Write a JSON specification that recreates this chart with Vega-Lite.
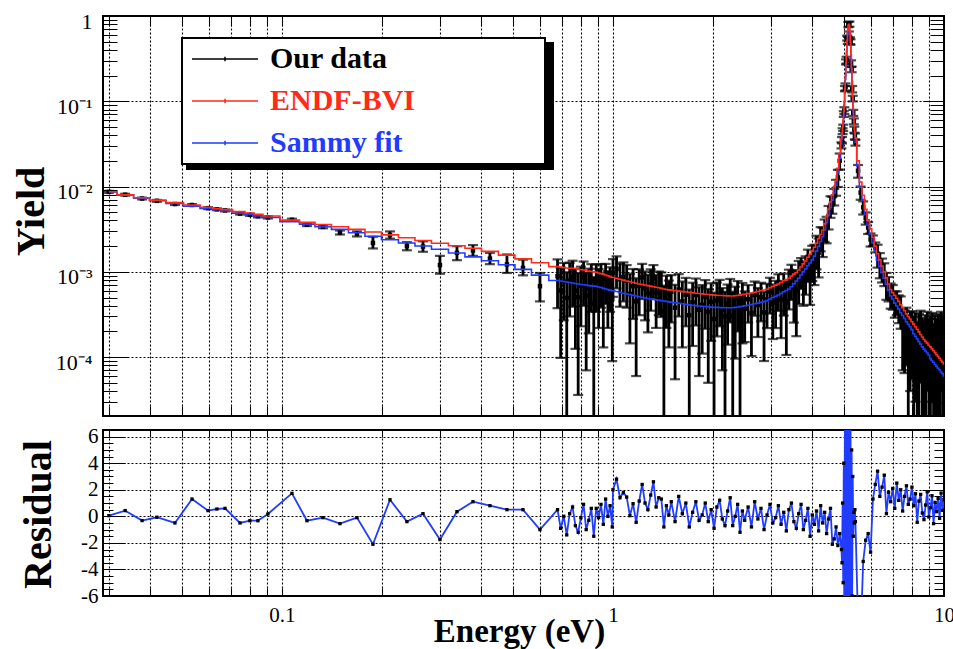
{
"$schema": "https://vega.github.io/schema/vega-lite/v6.json",
"background": "white",
"padding": {"left": 10, "top": 9, "right": -3, "bottom": 0},
"bounds": "flush",
"spacing": 14,
"config": {
  "font": "Liberation Serif",
  "view": {"stroke": "black", "strokeWidth": 2},
  "axis": {"domain": false, "labelColor": "black", "tickColor": "black", "tickWidth": 1, "gridColor": "black", "gridOpacity": 1, "gridDash": [2, 2], "gridWidth": 1.1, "labelFont": "Liberation Serif", "titleFont": "Liberation Serif", "titleColor": "black", "labelFontSize": 22, "titleFontWeight": "bold", "labelFlush": false, "labelOverlap": false}
},
"datasets": {"pts": [
{"E":0.0300,"Y":0.00866,"lo":0.00844,"hi":0.00888,"R":0.05,"endf":0.00868,"sammy":0.00865},
{"E":0.0336,"Y":0.00803,"lo":0.00783,"hi":0.00823,"R":0.43,"endf":0.00799,"sammy":0.00794},
{"E":0.0378,"Y":0.00724,"lo":0.00706,"hi":0.00742,"R":-0.32,"endf":0.00739,"sammy":0.0073},
{"E":0.0419,"Y":0.0068,"lo":0.00663,"hi":0.00697,"R":-0.07,"endf":0.00693,"sammy":0.00681},
{"E":0.0475,"Y":0.00624,"lo":0.00608,"hi":0.0064,"R":-0.5,"endf":0.00648,"sammy":0.00632},
{"E":0.0535,"Y":0.00608,"lo":0.00593,"hi":0.00623,"R":1.3,"endf":0.00607,"sammy":0.00589},
{"E":0.0598,"Y":0.00558,"lo":0.00544,"hi":0.00572,"R":0.43,"endf":0.00572,"sammy":0.00552},
{"E":0.0636,"Y":0.00541,"lo":0.00528,"hi":0.00554,"R":0.55,"endf":0.00554,"sammy":0.00534},
{"E":0.0673,"Y":0.00525,"lo":0.00512,"hi":0.00538,"R":0.6,"endf":0.00537,"sammy":0.00517},
{"E":0.0747,"Y":0.00482,"lo":0.0047,"hi":0.00494,"R":-0.5,"endf":0.00508,"sammy":0.00488},
{"E":0.0800,"Y":0.00466,"lo":0.00454,"hi":0.00478,"R":-0.33,"endf":0.0049,"sammy":0.0047},
{"E":0.0846,"Y":0.00449,"lo":0.00435,"hi":0.00463,"R":-0.33,"endf":0.00472,"sammy":0.00453},
{"E":0.0907,"Y":0.00435,"lo":0.00422,"hi":0.00448,"R":0.18,"endf":0.00451,"sammy":0.00433},
{"E":0.1072,"Y":0.00408,"lo":0.00396,"hi":0.0042,"R":1.73,"endf":0.00404,"sammy":0.00388},
{"E":0.1190,"Y":0.00358,"lo":0.00344,"hi":0.00373,"R":-0.33,"endf":0.0038,"sammy":0.00363},
{"E":0.1330,"Y":0.00337,"lo":0.00324,"hi":0.00351,"R":-0.1,"endf":0.00359,"sammy":0.00338},
{"E":0.1497,"Y":0.00289,"lo":0.00274,"hi":0.00305,"R":-0.55,"endf":0.00338,"sammy":0.00315},
{"E":0.1685,"Y":0.00279,"lo":0.0026,"hi":0.00298,"R":-0.1,"endf":0.00315,"sammy":0.00287},
{"E":0.1883,"Y":0.00218,"lo":0.00188,"hi":0.00258,"R":-2.1,"endf":0.00293,"sammy":0.00261},
{"E":0.2120,"Y":0.0027,"lo":0.00245,"hi":0.00298,"R":1.25,"endf":0.00271,"sammy":0.00238},
{"E":0.2385,"Y":0.002,"lo":0.00179,"hi":0.00223,"R":-0.4,"endf":0.00251,"sammy":0.00218},
{"E":0.2667,"Y":0.00198,"lo":0.00172,"hi":0.00228,"R":0.2,"endf":0.00233,"sammy":0.00201},
{"E":0.3001,"Y":0.0012,"lo":0.00095,"hi":0.00154,"R":-1.75,"endf":0.00216,"sammy":0.00184},
{"E":0.3378,"Y":0.00167,"lo":0.00137,"hi":0.002,"R":0.35,"endf":0.00202,"sammy":0.00166},
{"E":0.3776,"Y":0.00178,"lo":0.00154,"hi":0.00206,"R":1.1,"endf":0.00189,"sammy":0.0015},
{"E":0.4249,"Y":0.00143,"lo":0.00123,"hi":0.00167,"R":0.8,"endf":0.00174,"sammy":0.00135},
{"E":0.4783,"Y":0.00122,"lo":0.00097,"hi":0.0016,"R":0.5,"endf":0.00157,"sammy":0.00121},
{"E":0.5347,"Y":0.00111,"lo":0.00091,"hi":0.00139,"R":0.5,"endf":0.00142,"sammy":0.00107},
{"E":0.6017,"Y":0.00068,"lo":0.00045,"hi":0.00097,"R":-1.0,"endf":0.00128,"sammy":0.000915},
{"E":0.68,"Y":8.89e-4,"lo":3.75e-4,"hi":1.40e-3,"R":0.5,"endf":1.15e-3,"sammy":7.9e-4},
{"E":0.695,"Y":6.05e-4,"lo":0.98e-4,"hi":1.11e-3,"R":-0.9,"endf":1.14e-3,"sammy":7.8e-4},
{"E":0.71,"Y":7.7e-4,"lo":2.7e-4,"hi":1.27e-3,"R":0.0,"endf":1.12e-3,"sammy":7.7e-4},
{"E":0.725,"Y":4.94e-4,"lo":1e-5,"hi":9.9e-4,"R":-1.4,"endf":1.11e-3,"sammy":7.6e-4},
{"E":0.74,"Y":7.88e-4,"lo":3.0e-4,"hi":1.28e-3,"R":0.2,"endf":1.10e-3,"sammy":7.5e-4},
{"E":0.755,"Y":8.7e-4,"lo":3.9e-4,"hi":1.35e-3,"R":0.7,"endf":1.10e-3,"sammy":7.4e-4},
{"E":0.77,"Y":6.0e-4,"lo":1.25e-4,"hi":1.08e-3,"R":-0.7,"endf":1.09e-3,"sammy":7.3e-4},
{"E":0.785,"Y":5.04e-4,"lo":3.6e-5,"hi":9.7e-4,"R":-1.2,"endf":1.07e-3,"sammy":7.2e-4},
{"E":0.80,"Y":6.9e-4,"lo":2.3e-4,"hi":1.15e-3,"R":-0.1,"endf":1.06e-3,"sammy":7.1e-4},
{"E":0.815,"Y":8.6e-4,"lo":4.0e-4,"hi":1.32e-3,"R":0.9,"endf":1.05e-3,"sammy":7.05e-4},
{"E":0.83,"Y":5.25e-4,"lo":7e-5,"hi":9.8e-4,"R":-1.0,"endf":1.04e-3,"sammy":7.0e-4},
{"E":0.845,"Y":6.4e-4,"lo":1.9e-4,"hi":1.09e-3,"R":-0.3,"endf":1.02e-3,"sammy":6.9e-4},
{"E":0.86,"Y":7.9e-4,"lo":3.4e-4,"hi":1.23e-3,"R":0.6,"endf":1.01e-3,"sammy":6.85e-4},
{"E":0.875,"Y":4.25e-4,"lo":1e-5,"hi":8.7e-4,"R":-1.5,"endf":1.0e-3,"sammy":6.8e-4},
{"E":0.89,"Y":7.8e-4,"lo":3.4e-4,"hi":1.22e-3,"R":0.6,"endf":9.9e-4,"sammy":6.75e-4},
{"E":0.905,"Y":6.5e-4,"lo":2.2e-4,"hi":1.08e-3,"R":-0.1,"endf":9.7e-4,"sammy":6.65e-4},
{"E":0.92,"Y":8.0e-4,"lo":3.8e-4,"hi":1.23e-3,"R":0.9,"endf":9.5e-4,"sammy":6.55e-4},
{"E":0.935,"Y":5.4e-4,"lo":1.3e-4,"hi":9.6e-4,"R":-0.6,"endf":9.4e-4,"sammy":6.4e-4},
{"E":0.95,"Y":8.3e-4,"lo":4.2e-4,"hi":1.24e-3,"R":1.3,"endf":9.2e-4,"sammy":6.3e-4},
{"E":0.965,"Y":6.2e-4,"lo":2.2e-4,"hi":1.02e-3,"R":0.0,"endf":9.0e-4,"sammy":6.2e-4},
{"E":0.98,"Y":7.3e-4,"lo":3.4e-4,"hi":1.13e-3,"R":0.8,"endf":8.8e-4,"sammy":6.1e-4},
{"E":0.995,"Y":4.8e-4,"lo":9e-5,"hi":8.7e-4,"R":-0.8,"endf":8.6e-4,"sammy":6.0e-4},
{"E":1.0,"Y":9.6e-4,"lo":5.1e-4,"hi":1.41e-3,"R":2.0,"endf":8.6e-4,"sammy":6.0e-4},
{"E":1.025,"Y":1.08e-3,"lo":6.4e-4,"hi":1.52e-3,"R":2.8,"endf":8.4e-4,"sammy":5.87e-4},
{"E":1.05,"Y":8.2e-4,"lo":3.9e-4,"hi":1.25e-3,"R":1.4,"endf":8.2e-4,"sammy":5.75e-4},
{"E":1.075,"Y":8.7e-4,"lo":4.5e-4,"hi":1.29e-3,"R":1.8,"endf":8.0e-4,"sammy":5.62e-4},
{"E":1.1,"Y":7.9e-4,"lo":3.8e-4,"hi":1.2e-3,"R":1.45,"endf":7.8e-4,"sammy":5.5e-4},
{"E":1.125,"Y":5.5e-4,"lo":1.45e-4,"hi":9.5e-4,"R":0.05,"endf":7.65e-4,"sammy":5.4e-4},
{"E":1.15,"Y":6.8e-4,"lo":2.8e-4,"hi":1.08e-3,"R":0.95,"endf":7.5e-4,"sammy":5.3e-4},
{"E":1.175,"Y":4.5e-4,"lo":6e-5,"hi":8.4e-4,"R":-0.45,"endf":7.35e-4,"sammy":5.2e-4},
{"E":1.2,"Y":6.9e-4,"lo":3.1e-4,"hi":1.07e-3,"R":1.15,"endf":7.2e-4,"sammy":5.1e-4},
{"E":1.225,"Y":8.6e-4,"lo":4.8e-4,"hi":1.24e-3,"R":2.4,"endf":7.1e-4,"sammy":5.02e-4},
{"E":1.25,"Y":6.4e-4,"lo":2.7e-4,"hi":1.01e-3,"R":1.0,"endf":7.0e-4,"sammy":4.95e-4},
{"E":1.275,"Y":5.6e-4,"lo":1.95e-4,"hi":9.25e-4,"R":0.5,"endf":6.9e-4,"sammy":4.87e-4},
{"E":1.3,"Y":7.1e-4,"lo":3.5e-4,"hi":1.07e-3,"R":1.6,"endf":6.8e-4,"sammy":4.8e-4},
{"E":1.325,"Y":8.5e-4,"lo":4.9e-4,"hi":1.2e-3,"R":2.6,"endf":6.7e-4,"sammy":4.75e-4},
{"E":1.35,"Y":5.7e-4,"lo":2.2e-4,"hi":9.2e-4,"R":0.7,"endf":6.6e-4,"sammy":4.7e-4},
{"E":1.375,"Y":6.6e-4,"lo":3.1e-4,"hi":1.01e-3,"R":1.4,"endf":6.5e-4,"sammy":4.65e-4},
{"E":1.4,"Y":6.4e-4,"lo":2.95e-4,"hi":9.85e-4,"R":1.3,"endf":6.4e-4,"sammy":4.6e-4},
{"E":1.425,"Y":3.46e-4,"lo":1e-5,"hi":6.9e-4,"R":-0.8,"endf":6.3e-4,"sammy":4.55e-4},
{"E":1.45,"Y":5.6e-4,"lo":2.2e-4,"hi":9.0e-4,"R":0.8,"endf":6.2e-4,"sammy":4.5e-4},
{"E":1.475,"Y":4.6e-4,"lo":1.3e-4,"hi":7.9e-4,"R":0.1,"endf":6.15e-4,"sammy":4.45e-4},
{"E":1.5,"Y":5.85e-4,"lo":2.55e-4,"hi":9.15e-4,"R":1.1,"endf":6.1e-4,"sammy":4.4e-4},
{"E":1.54,"Y":3.8e-4,"lo":5.5e-5,"hi":7.05e-4,"R":-0.4,"endf":6.02e-4,"sammy":4.34e-4},
{"E":1.58,"Y":6.2e-4,"lo":3.0e-4,"hi":9.4e-4,"R":1.5,"endf":5.94e-4,"sammy":4.28e-4},
{"E":1.62,"Y":4.5e-4,"lo":1.3e-4,"hi":7.7e-4,"R":0.2,"endf":5.86e-4,"sammy":4.22e-4},
{"E":1.66,"Y":5.4e-4,"lo":2.3e-4,"hi":8.5e-4,"R":1.0,"endf":5.8e-4,"sammy":4.16e-4},
{"E":1.7,"Y":3.1e-4,"lo":1e-5,"hi":6.2e-4,"R":-0.8,"endf":5.74e-4,"sammy":4.1e-4},
{"E":1.74,"Y":4.4e-4,"lo":1.35e-4,"hi":7.45e-4,"R":0.3,"endf":5.68e-4,"sammy":4.06e-4},
{"E":1.78,"Y":5.35e-4,"lo":2.35e-4,"hi":8.35e-4,"R":1.1,"endf":5.62e-4,"sammy":4.02e-4},
{"E":1.82,"Y":3.6e-4,"lo":6e-5,"hi":6.6e-4,"R":-0.3,"endf":5.57e-4,"sammy":3.98e-4},
{"E":1.86,"Y":4.1e-4,"lo":1.1e-4,"hi":7.0e-4,"R":0.1,"endf":5.52e-4,"sammy":3.95e-4},
{"E":1.9,"Y":5.1e-4,"lo":2.15e-4,"hi":8.0e-4,"R":1.0,"endf":5.47e-4,"sammy":3.92e-4},
{"E":1.94,"Y":3.4e-4,"lo":5e-5,"hi":6.3e-4,"R":-0.4,"endf":5.42e-4,"sammy":3.89e-4},
{"E":1.98,"Y":4.45e-4,"lo":1.55e-4,"hi":7.35e-4,"R":0.5,"endf":5.37e-4,"sammy":3.86e-4},
{"E":2.02,"Y":2.8e-4,"lo":1e-5,"hi":5.7e-4,"R":-0.9,"endf":5.33e-4,"sammy":3.84e-4},
{"E":2.06,"Y":4.6e-4,"lo":1.75e-4,"hi":7.5e-4,"R":0.7,"endf":5.31e-4,"sammy":3.83e-4},
{"E":2.1,"Y":5.2e-4,"lo":2.3e-4,"hi":8.05e-4,"R":1.2,"endf":5.29e-4,"sammy":3.82e-4},
{"E":2.14,"Y":3.6e-4,"lo":7e-5,"hi":6.45e-4,"R":-0.2,"endf":5.27e-4,"sammy":3.81e-4},
{"E":2.18,"Y":3.0e-4,"lo":1e-5,"hi":5.85e-4,"R":-0.7,"endf":5.25e-4,"sammy":3.8e-4},
{"E":2.22,"Y":4.25e-4,"lo":1.4e-4,"hi":7.1e-4,"R":0.4,"endf":5.23e-4,"sammy":3.8e-4},
{"E":2.26,"Y":5.4e-4,"lo":2.55e-4,"hi":8.25e-4,"R":1.4,"endf":5.21e-4,"sammy":3.8e-4},
{"E":2.3,"Y":3.0e-4,"lo":1e-5,"hi":5.85e-4,"R":-0.7,"endf":5.2e-4,"sammy":3.8e-4},
{"E":2.34,"Y":3.83e-4,"lo":9.6e-5,"hi":6.7e-4,"R":0.0,"endf":5.24e-4,"sammy":3.83e-4},
{"E":2.38,"Y":4.9e-4,"lo":2.0e-4,"hi":7.8e-4,"R":0.9,"endf":5.29e-4,"sammy":3.87e-4},
{"E":2.42,"Y":2.5e-4,"lo":1e-5,"hi":5.4e-4,"R":-1.2,"endf":5.34e-4,"sammy":3.91e-4},
{"E":2.46,"Y":4.4e-4,"lo":1.45e-4,"hi":7.4e-4,"R":0.4,"endf":5.4e-4,"sammy":3.95e-4},
{"E":2.5,"Y":3.7e-4,"lo":1.5e-4,"hi":5.9e-4,"R":-0.3,"endf":5.47e-4,"sammy":4.0e-4},
{"E":2.56,"Y":4.77e-4,"lo":2.54e-4,"hi":7.0e-4,"R":0.7,"endf":5.55e-4,"sammy":4.06e-4},
{"E":2.62,"Y":3.3e-4,"lo":1.03e-4,"hi":5.57e-4,"R":-0.8,"endf":5.64e-4,"sammy":4.13e-4},
{"E":2.68,"Y":5.38e-4,"lo":3.06e-4,"hi":7.7e-4,"R":1.1,"endf":5.76e-4,"sammy":4.22e-4},
{"E":2.74,"Y":4.09e-4,"lo":1.72e-4,"hi":6.46e-4,"R":-0.2,"endf":5.88e-4,"sammy":4.3e-4},
{"E":2.8,"Y":5.04e-4,"lo":2.63e-4,"hi":7.45e-4,"R":0.6,"endf":6.0e-4,"sammy":4.38e-4},
{"E":2.86,"Y":3.36e-4,"lo":9e-5,"hi":5.82e-4,"R":-1.0,"endf":6.12e-4,"sammy":4.48e-4},
{"E":2.92,"Y":4.72e-4,"lo":2.19e-4,"hi":7.25e-4,"R":0.1,"endf":6.25e-4,"sammy":4.6e-4},
{"E":2.98,"Y":5.88e-4,"lo":3.24e-4,"hi":8.52e-4,"R":0.9,"endf":6.5e-4,"sammy":4.8e-4},
{"E":3.04,"Y":4.38e-4,"lo":1.63e-4,"hi":7.13e-4,"R":-0.5,"endf":6.75e-4,"sammy":5.0e-4},
{"E":3.1,"Y":5.02e-4,"lo":2.19e-4,"hi":7.85e-4,"R":-0.1,"endf":6.98e-4,"sammy":5.15e-4},
{"E":3.16,"Y":6.42e-4,"lo":3.48e-4,"hi":9.36e-4,"R":0.8,"endf":7.2e-4,"sammy":5.35e-4},
{"E":3.22,"Y":4.74e-4,"lo":1.67e-4,"hi":7.81e-4,"R":-0.6,"endf":7.5e-4,"sammy":5.58e-4},
{"E":3.28,"Y":6.29e-4,"lo":3.07e-4,"hi":9.51e-4,"R":0.3,"endf":7.85e-4,"sammy":5.85e-4},
{"E":3.34,"Y":4.39e-4,"lo":1.06e-4,"hi":7.72e-4,"R":-1.1,"endf":8.1e-4,"sammy":6.05e-4},
{"E":3.4,"Y":7.09e-4,"lo":3.62e-4,"hi":1.06e-3,"R":0.5,"endf":8.4e-4,"sammy":6.3e-4},
{"E":3.46,"Y":8.38e-4,"lo":4.69e-4,"hi":1.21e-3,"R":1.0,"endf":8.9e-4,"sammy":6.7e-4},
{"E":3.52,"Y":6.53e-4,"lo":2.54e-4,"hi":1.05e-3,"R":-0.4,"endf":9.4e-4,"sammy":7.25e-4},
{"E":3.58,"Y":6.05e-4,"lo":1.76e-4,"hi":1.03e-3,"R":-0.9,"endf":9.8e-4,"sammy":7.8e-4},
{"E":3.64,"Y":8.82e-4,"lo":4.2e-4,"hi":1.34e-3,"R":0.2,"endf":1.05e-3,"sammy":8.4e-4},
{"E":3.7,"Y":1.04e-3,"lo":6.3e-4,"hi":1.45e-3,"R":0.9,"endf":1.14e-3,"sammy":9.2e-4},
{"E":3.76,"Y":8.5e-4,"lo":4.0e-4,"hi":1.3e-3,"R":-1.0,"endf":1.24e-3,"sammy":1.0e-3},
{"E":3.82,"Y":1.03e-3,"lo":5.4e-4,"hi":1.52e-3,"R":-0.3,"endf":1.34e-3,"sammy":1.08e-3},
{"E":3.88,"Y":1.29e-3,"lo":7.6e-4,"hi":1.82e-3,"R":0.6,"endf":1.48e-3,"sammy":1.18e-3},
{"E":3.94,"Y":9.8e-4,"lo":4.1e-4,"hi":1.55e-3,"R":-1.5,"endf":1.61e-3,"sammy":1.27e-3},
{"E":4.0,"Y":1.4e-3,"lo":7.8e-4,"hi":2.02e-3,"R":0.1,"endf":1.75e-3,"sammy":1.38e-3},
{"E":4.06,"Y":1.39e-3,"lo":7.0e-4,"hi":2.08e-3,"R":-0.6,"endf":1.94e-3,"sammy":1.53e-3},
{"E":4.12,"Y":1.86e-3,"lo":1.07e-3,"hi":2.65e-3,"R":0.4,"endf":2.17e-3,"sammy":1.75e-3},
{"E":4.18,"Y":1.66e-3,"lo":8.6e-4,"hi":2.46e-3,"R":-1.1,"endf":2.44e-3,"sammy":1.99e-3},
{"E":4.24,"Y":2.54e-3,"lo":1.74e-3,"hi":3.34e-3,"R":0.8,"endf":2.74e-3,"sammy":2.27e-3},
{"E":4.3,"Y":2.39e-3,"lo":1.49e-3,"hi":3.29e-3,"R":-0.5,"endf":3.08e-3,"sammy":2.58e-3},
{"E":4.36,"Y":3.18e-3,"lo":2.25e-3,"hi":4.11e-3,"R":0.3,"endf":3.65e-3,"sammy":3.09e-3},
{"E":4.42,"Y":3.29e-3,"lo":2.16e-3,"hi":4.42e-3,"R":-1.3,"endf":4.45e-3,"sammy":3.78e-3},
{"E":4.48,"Y":4.53e-3,"lo":3.14e-3,"hi":5.92e-3,"R":-0.2,"endf":5.43e-3,"sammy":4.62e-3},
{"E":4.54,"Y":6.0e-3,"lo":4.3e-3,"hi":7.7e-3,"R":0.6,"endf":6.6e-3,"sammy":5.66e-3},
{"E":4.6,"Y":6.18e-3,"lo":4.8e-3,"hi":7.56e-3,"R":-2.1,"endf":8.0e-3,"sammy":6.9e-3},
{"E":4.66,"Y":7.69e-3,"lo":6.0e-3,"hi":9.37e-3,"R":-1.7,"endf":9.9e-3,"sammy":8.4e-3},
{"E":4.72,"Y":9.9e-3,"lo":7.8e-3,"hi":0.012,"R":-0.8,"endf":0.0118,"sammy":0.0103},
{"E":4.78,"Y":0.0128,"lo":9.9e-3,"hi":0.0157,"R":-2.2,"endf":0.0164,"sammy":0.0144},
{"E":4.84,"Y":0.0201,"lo":0.0158,"hi":0.0244,"R":-1.3,"endf":0.0244,"sammy":0.0215},
{"E":4.9,"Y":0.0305,"lo":0.028,"hi":0.033,"R":-2.5,"endf":0.036,"sammy":0.0317},
{"E":4.92,"Y":0.0351,"lo":0.0321,"hi":0.0381,"R":-3.5,"endf":0.042,"sammy":0.037},
{"E":4.94,"Y":0.0447,"lo":0.0412,"hi":0.0482,"R":1.0,"endf":0.05,"sammy":0.044},
{"E":4.96,"Y":0.049,"lo":0.0448,"hi":0.0532,"R":-5.0,"endf":0.06,"sammy":0.053},
{"E":4.98,"Y":0.071,"lo":0.0656,"hi":0.0764,"R":4.0,"endf":0.076,"sammy":0.067},
{"E":5.0,"Y":0.0779,"lo":0.0707,"hi":0.0851,"R":-9,"endf":0.1,"sammy":0.09},
{"E":5.02,"Y":0.141,"lo":0.131,"hi":0.151,"R":8,"endf":0.14,"sammy":0.126},
{"E":5.04,"Y":0.148,"lo":0.134,"hi":0.162,"R":-12,"endf":0.2,"sammy":0.18},
{"E":5.06,"Y":0.29,"lo":0.27,"hi":0.31,"R":10,"endf":0.28,"sammy":0.252},
{"E":5.08,"Y":0.305,"lo":0.277,"hi":0.333,"R":-8,"endf":0.385,"sammy":0.347},
{"E":5.1,"Y":0.552,"lo":0.515,"hi":0.589,"R":12,"endf":0.52,"sammy":0.468},
{"E":5.12,"Y":0.52,"lo":0.471,"hi":0.569,"R":-10,"endf":0.68,"sammy":0.612},
{"E":5.14,"Y":0.795,"lo":0.739,"hi":0.851,"R":9,"endf":0.78,"sammy":0.7},
{"E":5.16,"Y":0.6,"lo":0.542,"hi":0.658,"R":-11,"endf":0.8,"sammy":0.72},
{"E":5.18,"Y":0.805,"lo":0.749,"hi":0.861,"R":10,"endf":0.78,"sammy":0.7},
{"E":5.2,"Y":0.514,"lo":0.466,"hi":0.562,"R":-9,"endf":0.66,"sammy":0.594},
{"E":5.22,"Y":0.497,"lo":0.461,"hi":0.533,"R":7,"endf":0.5,"sammy":0.45},
{"E":5.24,"Y":0.277,"lo":0.252,"hi":0.302,"R":-8,"endf":0.35,"sammy":0.315},
{"E":5.26,"Y":0.237,"lo":0.219,"hi":0.255,"R":5,"endf":0.245,"sammy":0.22},
{"E":5.28,"Y":0.139,"lo":0.127,"hi":0.151,"R":-6,"endf":0.17,"sammy":0.153},
{"E":5.3,"Y":0.108,"lo":0.0998,"hi":0.116,"R":3,"endf":0.115,"sammy":0.103},
{"E":5.32,"Y":0.0733,"lo":0.0673,"hi":0.0793,"R":-1.5,"endf":0.083,"sammy":0.075},
{"E":5.34,"Y":0.0583,"lo":0.0537,"hi":0.0629,"R":0.3,"endf":0.065,"sammy":0.058},
{"E":5.36,"Y":0.0466,"lo":0.0428,"hi":0.0504,"R":-0.5,"endf":0.052,"sammy":0.047},
{"E":5.38,"Y":0.0388,"lo":0.0357,"hi":0.0419,"R":0.5,"endf":0.043,"sammy":0.0385},
{"E":5.4,"Y":0.0328,"lo":0.0302,"hi":0.0354,"R":-0.4,"endf":0.037,"sammy":0.033},
{"E":5.5,"Y":0.0153,"lo":0.0127,"hi":0.0179,"R":-8,"endf":0.02,"sammy":0.0174},
{"E":5.6,"Y":8.5e-3,"lo":7.0e-3,"hi":0.01,"R":-9,"endf":0.0113,"sammy":9.8e-3},
{"E":5.7,"Y":5.7e-3,"lo":4.7e-3,"hi":6.7e-3,"R":-3.4,"endf":7.9e-3,"sammy":6.9e-3},
{"E":5.8,"Y":4.28e-3,"lo":3.58e-3,"hi":4.98e-3,"R":-1.8,"endf":5.4e-3,"sammy":4.7e-3},
{"E":5.9,"Y":3.31e-3,"lo":2.78e-3,"hi":3.84e-3,"R":-1.3,"endf":4.07e-3,"sammy":3.54e-3},
{"E":6.0,"Y":2.4e-3,"lo":1.98e-3,"hi":2.82e-3,"R":-2.7,"endf":3.2e-3,"sammy":2.78e-3},
{"E":6.1,"Y":2.34e-3,"lo":2.01e-3,"hi":2.67e-3,"R":1.3,"endf":2.54e-3,"sammy":2.2e-3},
{"E":6.2,"Y":1.95e-3,"lo":1.69e-3,"hi":2.21e-3,"R":2.4,"endf":2.0e-3,"sammy":1.74e-3},
{"E":6.3,"Y":1.6e-3,"lo":1.12e-3,"hi":2.08e-3,"R":3.4,"endf":1.63e-3,"sammy":1.37e-3},
{"E":6.4,"Y":1.25e-3,"lo":8.4e-4,"hi":1.66e-3,"R":1.5,"endf":1.38e-3,"sammy":1.16e-3},
{"E":6.5,"Y":1.09e-3,"lo":7.5e-4,"hi":1.43e-3,"R":2.2,"endf":1.17e-3,"sammy":9.8e-4},
{"E":6.6,"Y":9.7e-4,"lo":6.8e-4,"hi":1.26e-3,"R":3.1,"endf":1.0e-3,"sammy":8.4e-4},
{"E":6.7,"Y":7.2e-4,"lo":4.7e-4,"hi":9.7e-4,"R":0.2,"endf":8.5e-4,"sammy":7.1e-4},
{"E":6.8,"Y":6.6e-4,"lo":4.5e-4,"hi":8.7e-4,"R":1.8,"endf":7.2e-4,"sammy":6.05e-4},
{"E":6.9,"Y":5.5e-4,"lo":3.7e-4,"hi":7.3e-4,"R":1.1,"endf":6.2e-4,"sammy":5.2e-4},
{"E":7.0,"Y":5.3e-4,"lo":3.6e-4,"hi":7.0e-4,"R":2.1,"endf":5.7e-4,"sammy":4.8e-4},
{"E":7.1,"Y":4.4e-4,"lo":2.9e-4,"hi":5.9e-4,"R":0.6,"endf":5.3e-4,"sammy":4.3e-4},
{"E":7.2,"Y":4.47e-4,"lo":3.1e-4,"hi":5.9e-4,"R":2.5,"endf":4.9e-4,"sammy":3.97e-4},
{"E":7.3,"Y":3.87e-4,"lo":2.5e-4,"hi":5.3e-4,"R":1.2,"endf":4.5e-4,"sammy":3.65e-4},
{"E":7.4,"Y":3.65e-4,"lo":2.15e-4,"hi":5.15e-4,"R":2.0,"endf":4.1e-4,"sammy":3.32e-4},
{"E":7.5,"Y":2.2e-4,"lo":7e-5,"hi":3.7e-4,"R":0.4,"endf":3.8e-4,"sammy":3.08e-4},
{"E":7.6,"Y":2.1e-4,"lo":6.5e-5,"hi":3.55e-4,"R":1.5,"endf":3.5e-4,"sammy":2.84e-4},
{"E":7.7,"Y":2.3e-4,"lo":8e-5,"hi":3.8e-4,"R":2.3,"endf":3.2e-4,"sammy":2.6e-4},
{"E":7.8,"Y":1.6e-4,"lo":1e-5,"hi":3.1e-4,"R":0.9,"endf":3.0e-4,"sammy":2.43e-4},
{"E":7.9,"Y":1.9e-4,"lo":4e-5,"hi":3.4e-4,"R":1.3,"endf":2.8e-4,"sammy":2.27e-4},
{"E":8.0,"Y":2.0e-4,"lo":5.5e-5,"hi":3.45e-4,"R":2.2,"endf":2.6e-4,"sammy":2.1e-4},
{"E":8.1,"Y":1.5e-4,"lo":1e-5,"hi":3.0e-4,"R":0.8,"endf":2.44e-4,"sammy":1.88e-4},
{"E":8.2,"Y":1.8e-4,"lo":3e-5,"hi":3.3e-4,"R":1.7,"endf":2.27e-4,"sammy":1.75e-4},
{"E":8.3,"Y":1.1e-4,"lo":1e-5,"hi":2.6e-4,"R":-0.45,"endf":2.12e-4,"sammy":1.63e-4},
{"E":8.4,"Y":1.7e-4,"lo":1e-5,"hi":3.2e-4,"R":1.15,"endf":1.98e-4,"sammy":1.52e-4},
{"E":8.5,"Y":2.0e-4,"lo":5e-5,"hi":3.5e-4,"R":1.65,"endf":1.84e-4,"sammy":1.42e-4},
{"E":8.6,"Y":1.4e-4,"lo":1e-5,"hi":2.9e-4,"R":0.25,"endf":1.72e-4,"sammy":1.32e-4},
{"E":8.7,"Y":1.2e-4,"lo":1e-5,"hi":2.7e-4,"R":-0.25,"endf":1.61e-4,"sammy":1.24e-4},
{"E":8.8,"Y":1.6e-4,"lo":1e-5,"hi":3.1e-4,"R":0.85,"endf":1.53e-4,"sammy":1.18e-4},
{"E":8.9,"Y":1.9e-4,"lo":4e-5,"hi":3.4e-4,"R":1.85,"endf":1.46e-4,"sammy":1.12e-4},
{"E":9.0,"Y":1.3e-4,"lo":1e-5,"hi":2.8e-4,"R":-0.05,"endf":1.38e-4,"sammy":1.06e-4},
{"E":9.1,"Y":1.5e-4,"lo":1e-5,"hi":3.0e-4,"R":0.65,"endf":1.32e-4,"sammy":9.6e-5},
{"E":9.2,"Y":1.8e-4,"lo":3e-5,"hi":3.3e-4,"R":1.55,"endf":1.25e-4,"sammy":9.1e-5},
{"E":9.3,"Y":1.0e-4,"lo":1e-5,"hi":2.45e-4,"R":-0.55,"endf":1.19e-4,"sammy":8.7e-5},
{"E":9.4,"Y":1.6e-4,"lo":1e-5,"hi":3.1e-4,"R":1.05,"endf":1.13e-4,"sammy":8.2e-5},
{"E":9.5,"Y":1.3e-4,"lo":1e-5,"hi":2.8e-4,"R":0.35,"endf":1.07e-4,"sammy":7.8e-5},
{"E":9.6,"Y":1.7e-4,"lo":1e-5,"hi":3.2e-4,"R":1.35,"endf":1.02e-4,"sammy":7.4e-5},
{"E":9.7,"Y":1.2e-4,"lo":1e-5,"hi":2.7e-4,"R":-0.15,"endf":9.7e-5,"sammy":7.1e-5},
{"E":9.8,"Y":1.9e-4,"lo":4e-5,"hi":3.4e-4,"R":1.75,"endf":9.2e-5,"sammy":6.7e-5},
{"E":9.9,"Y":1.4e-4,"lo":1e-5,"hi":2.9e-4,"R":0.45,"endf":8.7e-5,"sammy":6.4e-5},
{"E":10.0,"Y":1.6e-4,"lo":1e-5,"hi":3.1e-4,"R":1.25,"endf":8.3e-5,"sammy":6.0e-5}
]},
"data": {"name": "pts"},
"vconcat": [
{
  "width": 841, "height": 400,
  "resolve": {"axis": {"x": "independent", "y": "independent"}},
  "layer": [
    {"mark": {"type": "rule", "clip": true, "strokeWidth": 2.8},
     "encoding": {
       "x": {"field": "E", "type": "quantitative", "scale": {"type": "log", "domain": [0.0288, 10], "nice": false},
             "axis": {"orient": "bottom", "values": [0.03,0.04,0.05,0.06,0.07,0.08,0.09,0.1,0.2,0.3,0.4,0.5,0.6,0.7,0.8,0.9,1,2,3,4,5,6,7,8,9,10], "labels": false, "grid": true, "tickSize": -10, "title": null}},
       "y": {"field": "lo", "type": "quantitative", "scale": {"type": "log", "domain": [2.04e-5, 1], "nice": false},
             "axis": {"orient": "left", "values": [0.0001,0.001,0.01,0.1,1], "grid": true, "tickSize": -25, "labelPadding": 36, "labelOffset": 5,
                      "labelExpr": "datum.value > 0.5 ? '1' : datum.value > 0.05 ? '10\u207b\u00b9' : datum.value > 0.005 ? '10\u207b\u00b2' : datum.value > 0.0005 ? '10\u207b\u00b3' : '10\u207b\u2074'",
                      "title": "Yield", "titleFontSize": 40, "titleX": -60, "titleY": 195, "titleBaseline": "alphabetic"}},
       "y2": {"field": "hi"},
       "color": {"datum": "Our data", "type": "nominal",
                 "scale": {"domain": ["Our data", "ENDF-BVI", "Sammy fit"], "range": ["black", "#ff2a1a", "#1f3cff"]},
                 "legend": {"orient": "none", "legendX": 79, "legendY": 22, "zindex": 2,
                            "title": ".", "titleOrient": "right", "titlePadding": 122, "titleFontSize": 8, "titleColor": "white",
                            "symbolType": "M-3,0H3M0,-0.2V0.2", "symbolSize": 484, "symbolStrokeWidth": 1.5, "symbolOffset": 22, "symbolFillColor": "transparent",
                            "labelFont": "Liberation Serif", "labelFontSize": 30, "labelFontWeight": "bold", "labelOffset": 30, "labelLimit": 600,
                            "rowPadding": 12, "padding": 6, "strokeColor": "black", "fillColor": "white",
                            "encode": {"labels": {"update": {"fill": {"scale": "color", "field": "value"}}},
                                       "legend": {"update": {"strokeWidth": {"value": 2}}}}}},
       "opacity": {"datum": "s1", "type": "nominal",
                 "scale": {"domain": ["s1", "s2", "s3"], "range": [1, 1, 1]},
                 "legend": {"orient": "none", "legendX": 84, "legendY": 27, "zindex": 1,
                            "title": ".", "titleOrient": "right", "titlePadding": 52, "titleFontSize": 8, "titleColor": "black",
                            "symbolType": "M-3,0H3", "symbolSize": 484, "symbolStrokeWidth": 1.5, "symbolOffset": 22, "symbolFillColor": "black", "symbolStrokeColor": "black",
                            "labelFont": "Liberation Serif", "labelFontSize": 30, "labelFontWeight": "bold", "labelOffset": 240, "labelLimit": 600, "labelColor": "black",
                            "rowPadding": 12, "padding": 6, "strokeColor": "black", "fillColor": "black",
                            "encode": {"labels": {"update": {"text": {"value": "."}}},
                                       "legend": {"update": {"strokeWidth": {"value": 2}}}}}}
     }},
    {"mark": {"type": "tick", "orient": "horizontal", "clip": true, "size": 10, "thickness": 2.2, "color": "black"},
     "encoding": {
       "x": {"field": "E", "type": "quantitative", "axis": {"orient": "top", "values": [0.03,0.04,0.05,0.06,0.07,0.08,0.09,0.1,0.2,0.3,0.4,0.5,0.6,0.7,0.8,0.9,1,2,3,4,5,6,7,8,9,10], "labels": false, "grid": false, "tickSize": -10, "title": null}},
       "y": {"field": "hi", "type": "quantitative", "axis": {"orient": "left", "values": [0.00003,0.00004,0.00005,0.00006,0.00007,0.00008,0.00009,0.0002,0.0003,0.0004,0.0005,0.0006,0.0007,0.0008,0.0009,0.002,0.003,0.004,0.005,0.006,0.007,0.008,0.009,0.02,0.03,0.04,0.05,0.06,0.07,0.08,0.09,0.2,0.3,0.4,0.5,0.6,0.7,0.8,0.9], "labels": false, "grid": false, "tickSize": -14, "title": null}}
     }},
    {"mark": {"type": "tick", "orient": "horizontal", "clip": true, "size": 10, "thickness": 2.2, "color": "black"},
     "encoding": {
       "x": {"field": "E", "type": "quantitative", "axis": null},
       "y": {"field": "lo", "type": "quantitative", "axis": {"orient": "right", "values": [0.0001,0.001,0.01,0.1,1], "labels": false, "grid": false, "tickSize": -21, "title": null}}
     }},
    {"mark": {"type": "point", "shape": "square", "filled": true, "size": 20, "opacity": 1, "color": "black", "clip": true},
     "encoding": {
       "x": {"field": "E", "type": "quantitative", "axis": null},
       "y": {"field": "Y", "type": "quantitative", "axis": null}
     }},
    {"mark": {"type": "line", "interpolate": "step", "clip": true, "strokeWidth": 1.6},
     "encoding": {
       "x": {"field": "E", "type": "quantitative", "axis": null},
       "y": {"field": "sammy", "type": "quantitative", "axis": {"orient": "right", "values": [0.00003,0.00004,0.00005,0.00006,0.00007,0.00008,0.00009,0.0002,0.0003,0.0004,0.0005,0.0006,0.0007,0.0008,0.0009,0.002,0.003,0.004,0.005,0.006,0.007,0.008,0.009,0.02,0.03,0.04,0.05,0.06,0.07,0.08,0.09,0.2,0.3,0.4,0.5,0.6,0.7,0.8,0.9], "labels": false, "grid": false, "tickSize": -14, "title": null}},
       "color": {"datum": "Sammy fit", "type": "nominal"},
       "opacity": {"datum": "s3", "type": "nominal"}
     }},
    {"mark": {"type": "line", "interpolate": "step", "clip": true, "strokeWidth": 1.6},
     "encoding": {
       "x": {"field": "E", "type": "quantitative", "axis": null},
       "y": {"field": "endf", "type": "quantitative", "axis": null},
       "color": {"datum": "ENDF-BVI", "type": "nominal"},
       "opacity": {"datum": "s2", "type": "nominal"}
     }}
  ]
},
{
  "width": 841, "height": 166,
  "resolve": {"axis": {"x": "independent", "y": "independent"}},
  "layer": [
    {"mark": {"type": "line", "clip": true, "strokeWidth": 1.8, "color": "#1f3cff"},
     "encoding": {
       "x": {"field": "E", "type": "quantitative", "scale": {"type": "log", "domain": [0.0288, 10], "nice": false},
             "axis": {"orient": "bottom", "values": [0.03,0.04,0.05,0.06,0.07,0.08,0.09,0.1,0.2,0.3,0.4,0.5,0.6,0.7,0.8,0.9,1,2,3,4,5,6,7,8,9,10], "grid": true, "tickSize": -8, "labelPadding": 16, "labelFontSize": 21,
                      "labelExpr": "datum.value == 0.1 ? '0.1' : datum.value == 1 ? '1' : datum.value == 10 ? '10' : ''",
                      "title": "Energy (eV)", "titleFontSize": 33, "titleX": 416, "titleY": 45, "titleBaseline": "alphabetic"}},
       "y": {"field": "R", "type": "quantitative", "scale": {"domain": [-6, 6.5], "nice": false, "zero": false},
             "axis": {"orient": "left", "values": [-6,-4,-2,0,2,4,6], "grid": true, "tickSize": -22, "labelPadding": 27, "labelFontSize": 21,
                      "labelExpr": "datum.value < 0 ? '-' + abs(datum.value) : '' + datum.value",
                      "title": "Residual", "titleFontSize": 40, "titleX": -53, "titleY": 84, "titleBaseline": "alphabetic"}}
     }},
    {"mark": {"type": "point", "shape": "square", "filled": true, "size": 11, "color": "black", "opacity": 1, "clip": true},
     "encoding": {
       "x": {"field": "E", "type": "quantitative", "axis": {"orient": "top", "values": [0.03,0.04,0.05,0.06,0.07,0.08,0.09,0.1,0.2,0.3,0.4,0.5,0.6,0.7,0.8,0.9,1,2,3,4,5,6,7,8,9,10], "labels": false, "grid": false, "tickSize": -7, "title": null}},
       "y": {"field": "R", "type": "quantitative", "axis": {"orient": "left", "values": [-5.5,-5,-4.5,-3.5,-3,-2.5,-1.5,-1,-0.5,0.5,1,1.5,2.5,3,3.5,4.5,5,5.5,6.5], "labels": false, "grid": false, "tickSize": -10, "title": null}}
     }},
    {"mark": {"type": "point", "opacity": 0, "clip": true},
     "encoding": {
       "x": {"field": "E", "type": "quantitative", "axis": null},
       "y": {"field": "R", "type": "quantitative", "axis": {"orient": "right", "values": [-6,-4,-2,0,2,4,6], "labels": false, "grid": false, "tickSize": -22, "title": null}}
     }},
    {"mark": {"type": "point", "opacity": 0, "clip": true},
     "encoding": {
       "x": {"field": "E", "type": "quantitative", "axis": null},
       "y": {"field": "R", "type": "quantitative", "axis": {"orient": "right", "values": [-5.5,-5,-4.5,-3.5,-3,-2.5,-1.5,-1,-0.5,0.5,1,1.5,2.5,3,3.5,4.5,5,5.5,6.5], "labels": false, "grid": false, "tickSize": -10, "title": null}}
     }}
  ]
}
]
}
